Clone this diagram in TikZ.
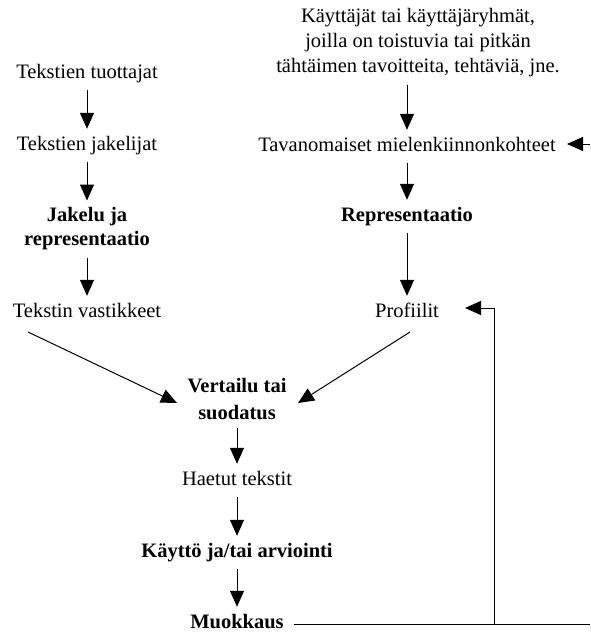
\documentclass[tikz,border=0pt]{standalone}
\usepackage{fontspec}
\setmainfont{Liberation Serif}
\usetikzlibrary{arrows.meta}
\begin{document}
\begin{tikzpicture}[x=1pt,y=-1pt,
  txt/.style={inner sep=0pt, font=\fontsize{20.5}{25}\selectfont, align=center},
  lbl/.style={txt, text height=14pt, text depth=4pt},
  blbl/.style={lbl, font=\fontsize{20.5}{25}\selectfont\bfseries},
  btxt/.style={txt, font=\fontsize{20.5}{24}\selectfont\bfseries},
  tip/.style={-{Triangle[width=14pt,length=16pt]}},
  flow/.style={tip, line width=1pt, shorten <=8pt, shorten >=7pt},
  link/.style={line width=1pt}]
\useasboundingbox (0,0) rectangle (590,632);

% left column: producers and distribution of texts
\node[lbl]  (tt) at (87,73)  {Tekstien tuottajat};
\node[lbl]  (tj) at (87,145) {Tekstien jakelijat};
\node[btxt] (jr) at (87,229) {Jakelu ja\\representaatio};
\node[lbl]  (tv) at (87,312) {Tekstin vastikkeet};

% right column: users and their interests
\node[txt]  (ku) at (418,43) {Käyttäjät tai käyttäjäryhmät,\\joilla on toistuvia tai pitkän\\tähtäimen tavoitteita, tehtäviä, jne.};
\node[lbl]  (tm) at (407,146) {Tavanomaiset mielenkiinnonkohteet};
\node[blbl] (rp) at (407,216) {Representaatio};
\node[lbl]  (pf) at (407,312) {Profiilit};

% centre column: matching and use
\node[btxt, font=\fontsize{20.5}{27}\selectfont\bfseries] (vs) at (237,399) {Vertailu tai\\suodatus};
\node[lbl]  (ht) at (237,480) {Haetut tekstit};
\node[blbl] (ka) at (237,552) {Käyttö ja/tai arviointi};
\node[blbl] (mk) at (237,623) {Muokkaus};

% vertical flows
\draw[flow] (tt) -- (tj);
\draw[flow] (tj) -- (jr);
\draw[flow] (jr) -- (tv);
\draw[flow] (ku.south -| tm) -- (tm);
\draw[flow] (tm) -- (rp);
\draw[flow] (rp) -- (pf);
\draw[flow] (vs) -- (ht);
\draw[flow] (ht) -- (ka);
\draw[flow] (ka) -- (mk);

% converging flows into the comparison step
\coordinate (l0) at (28,332);
\coordinate (l1) at (177,403);
\coordinate (r0) at (410,332);
\coordinate (r1) at (298,403);
\draw[tip, link] (l0) -- (l1);
\draw[tip, link] (r0) -- (r1);

% feedback from modification back to the profiles
\coordinate (fbB) at (494,624);
\coordinate (fbT) at (494,308);
\coordinate (fbP) at (465,308);
\coordinate (fbE) at (590,624);
\draw[link] ([xshift=10pt]mk.east |- fbB) -- (fbE);
\draw[link, tip] (fbB) -- (fbT) -- (fbP);

% incoming arrow at the interests
\coordinate (inE) at (590,144);
\coordinate (inT) at (567,144);
\draw[link, tip] (inE) -- (inT);
\end{tikzpicture}
\end{document}
